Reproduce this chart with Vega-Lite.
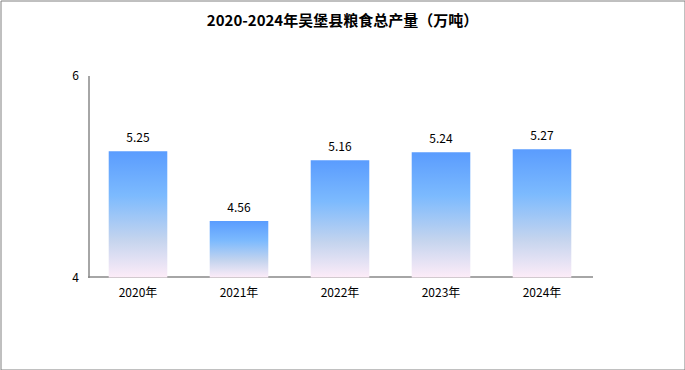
{
  "$schema": "https://vega.github.io/schema/vega-lite/v6.json",
  "width": 684,
  "height": 369,
  "padding": {"left": 0.5, "top": 0.5, "right": 0.5, "bottom": 0.5},
  "autosize": "none",
  "background": "white",
  "config": {
    "view": {"stroke": "#808080", "strokeWidth": 1},
    "font": "Noto Sans CJK SC"
  },
  "title": {
    "text": "2020-2024年吴堡县粮食总产量（万吨）",
    "fontSize": 15,
    "fontWeight": "bold",
    "color": "#000000",
    "anchor": "middle",
    "orient": "top",
    "offset": -28,
    "font": "Noto Sans CJK SC"
  },
  "data": {
    "values": [
      {"year": "2020年", "value": 5.25},
      {"year": "2021年", "value": 4.56},
      {"year": "2022年", "value": 5.16},
      {"year": "2023年", "value": 5.24},
      {"year": "2024年", "value": 5.27}
    ]
  },
  "encoding": {
    "x": {
      "field": "year",
      "type": "nominal",
      "sort": null,
      "scale": {"range": [87, 592], "paddingInner": 0.42, "paddingOuter": 0.21},
      "axis": {
        "title": null,
        "labelAngle": 0,
        "ticks": false,
        "domainColor": "#888888",
        "domainWidth": 1.5,
        "offset": -93,
        "labelFontSize": 12,
        "labelColor": "#000000",
        "labelPadding": 11
      }
    },
    "y": {
      "field": "value",
      "type": "quantitative",
      "scale": {"domain": [4, 6], "range": [277, 75], "nice": false, "zero": false},
      "axis": {
        "title": null,
        "values": [4, 6],
        "grid": false,
        "ticks": false,
        "domainColor": "#888888",
        "domainWidth": 1.5,
        "offset": -88,
        "labelFontSize": 12,
        "labelColor": "#000000",
        "labelPadding": 10
      }
    }
  },
  "layer": [
    {
      "mark": {
        "type": "bar",
        "clip": false,
        "fill": {
          "gradient": "linear",
          "x1": 0, "y1": 0, "x2": 0, "y2": 1,
          "stops": [
            {"offset": 0, "color": "#5a9cfe"},
            {"offset": 0.35, "color": "#7cbafe"},
            {"offset": 0.7, "color": "#c4d4ee"},
            {"offset": 1, "color": "#fdecf8"}
          ]
        }
      },
      "encoding": {"y2": {"datum": 4}}
    },
    {
      "mark": {"type": "text", "dy": -13, "fontSize": 12, "color": "#000000"},
      "encoding": {"text": {"field": "value", "type": "quantitative", "format": ".2f"}}
    }
  ]
}
